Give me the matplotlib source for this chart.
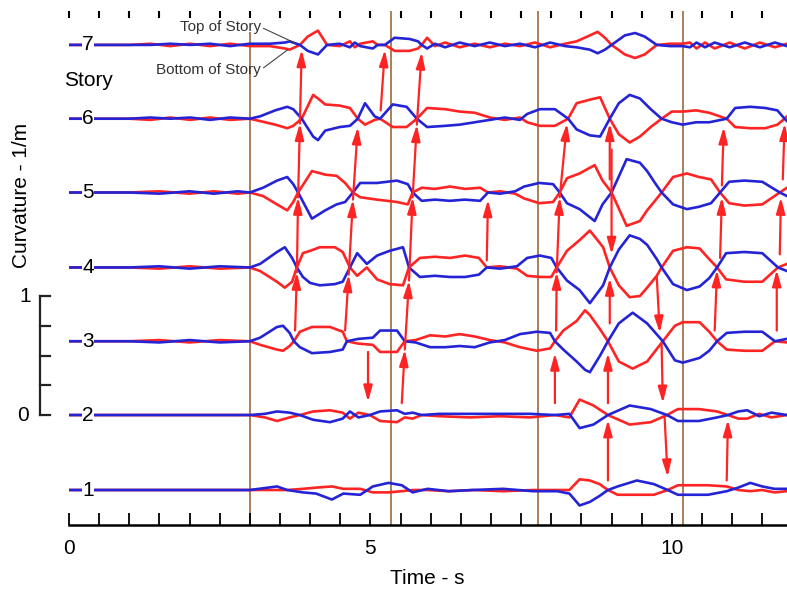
import matplotlib
matplotlib.use('Agg')
import matplotlib.pyplot as plt
import numpy as np

plt.rcParams['font.family'] = ['Liberation Sans', 'DejaVu Sans']

# ---- data: curvature traces (1/m, relative to each story line) ----
story_names = ['1', '2', '3', '4', '5', '6', '7']
story_base = [-0.63, 0.0, 0.62, 1.24, 1.87, 2.49, 3.11]

t7 = [0, 1.0, 1.35, 1.68, 2.01, 2.34, 2.67, 3.0, 3.33, 3.58, 3.66, 3.83, 3.96, 4.13, 4.28,
      4.49, 4.66, 4.74, 4.83, 5.04, 5.12, 5.24, 5.40, 5.65, 5.79, 5.85, 5.94, 6.07, 6.24,
      6.48, 6.73, 6.98, 7.23, 7.48, 7.73, 7.98, 8.23, 8.42, 8.64, 8.77, 8.89, 9.00, 9.22,
      9.39, 9.55, 9.75, 9.97, 10.18, 10.30, 10.41, 10.55, 10.71, 10.96, 11.21, 11.46, 11.71, 11.91]
red7 = [0, 0, .01, -.01, .01, -.01, .01, -.01, -.01, -.03, -.04, 0, .07, .12, 0,
        -.01, .03, -.02, .01, .03, 0, 0, -.05, -.05, -.03, 0, .06, -.01, .02,
        -.02, .01, -.02, .01, -.01, .02, -.02, .01, .03, .08, .11, .06, 0, -.08,
        -.11, -.08, 0, .01, .01, .02, -.03, .02, -.03, .02, -.03, .02, -.02, .01]
blue7 = [0, 0, 0, .01, 0, .01, -.01, .01, .01, .02, .03, 0, -.05, -.08, 0,
         .01, -.02, .02, -.01, -.03, 0, 0, .06, .05, .03, 0, -.03, .01, -.02,
         .02, -.01, .02, -.01, .01, -.02, .02, -.01, -.02, -.04, -.07, -.04, 0, .08,
         .10, .07, 0, -.01, -.01, -.02, .02, -.02, .02, -.02, .02, -.02, .02, -.01]

t6 = [0, 1.0, 1.35, 1.68, 2.01, 2.34, 2.67, 3.0, 3.17, 3.42, 3.62, 3.72, 3.86, 4.05, 4.13,
      4.25, 4.49, 4.66, 4.79, 4.91, 5.07, 5.16, 5.37, 5.60, 5.77, 5.94, 6.24, 6.48, 6.73,
      6.98, 7.23, 7.48, 7.60, 7.81, 8.06, 8.28, 8.42, 8.64, 8.81, 8.97, 9.12, 9.30, 9.47,
      9.65, 9.83, 10.0, 10.18, 10.40, 10.62, 10.91, 11.05, 11.30, 11.55, 11.75, 11.87, 11.91]
red6 = [0, 0, -.01, .01, -.01, .01, -.01, 0, -.02, -.05, -.08, -.06, 0, .20, .17,
        .12, .11, .09, 0, -.05, -.01, 0, -.07, -.07, 0, .09, .08, .06, .05,
        .01, -.01, .01, -.03, -.06, -.06, 0, .13, .16, .18, 0, -.13, -.20, -.15,
        -.07, 0, .06, .06, .07, .05, 0, -.07, -.08, -.08, -.05, 0, .02]
blue6 = [0, 0, .01, 0, .01, -.01, .01, 0, .02, .07, .10, .08, 0, -.15, -.18,
         -.10, -.07, -.06, 0, .13, .02, 0, .12, .10, 0, -.07, -.06, -.05, -.03,
         -.01, .01, -.01, .04, .08, .08, 0, -.09, -.14, -.15, 0, .13, .20, .17,
         .08, 0, -.03, -.05, -.03, -.03, 0, .09, .10, .09, .07, 0, -.02]

t5 = [0, 1.0, 1.5, 2.0, 2.4, 2.8, 3.0, 3.22, 3.45, 3.62, 3.72, 3.80, 4.03, 4.25, 4.44,
      4.58, 4.71, 4.83, 5.11, 5.44, 5.62, 5.70, 5.85, 6.07, 6.32, 6.57, 6.82, 6.95, 7.15,
      7.40, 7.55, 7.80, 8.03, 8.14, 8.26, 8.47, 8.72, 8.85, 9.00, 9.25, 9.47, 9.59, 9.72,
      9.83, 10.02, 10.25, 10.45, 10.65, 10.80, 10.95, 11.20, 11.50, 11.79, 11.91]
red5 = [0, 0, .01, -.01, .01, -.01, 0, -.03, -.10, -.15, -.08, 0, .18, .15, .14,
        .08, 0, -.04, -.06, -.08, -.10, 0, .04, .03, .05, .03, .04, 0, .01,
        -.01, -.05, -.09, -.08, 0, .12, .16, .23, .10, 0, -.28, -.24, -.15, -.07,
        0, .13, .16, .13, .11, 0, -.09, -.11, -.10, 0, .04]
blue5 = [0, 0, -.01, .01, -.01, .01, 0, .04, .10, .13, .07, 0, -.22, -.15, -.10,
         -.08, 0, .08, .08, .10, .07, 0, -.07, -.06, -.07, -.06, -.07, 0, -.01,
         .01, .05, .08, .07, 0, -.09, -.14, -.24, -.10, 0, .28, .25, .18, .08,
         0, -.10, -.14, -.12, -.09, 0, .09, .10, .09, 0, -.03]

t4 = [0, 1.0, 1.5, 2.0, 2.5, 3.0, 3.17, 3.45, 3.58, 3.70, 3.78, 3.88, 4.00, 4.16, 4.41,
      4.54, 4.66, 4.78, 4.94, 5.11, 5.32, 5.54, 5.64, 5.82, 6.07, 6.32, 6.57, 6.80, 6.93,
      7.15, 7.43, 7.60, 7.81, 8.00, 8.09, 8.26, 8.47, 8.64, 8.86, 8.97, 9.12, 9.30, 9.47,
      9.59, 9.75, 9.83, 10.02, 10.25, 10.46, 10.62, 10.75, 10.90, 11.20, 11.50, 11.76, 11.91]
red4 = [0, 0, -.01, .01, -.01, 0, -.03, -.12, -.17, -.12, 0, .12, .14, .17, .17,
        .13, 0, -.07, 0, -.10, -.14, -.15, 0, .08, .09, .08, .10, .08, 0,
        .01, -.01, -.07, -.08, -.08, 0, .14, .23, .31, .17, 0, -.15, -.25, -.24,
        -.17, -.07, 0, .14, .17, .16, .07, 0, -.10, -.12, -.12, 0, .03]
blue4 = [0, 0, .01, -.01, .01, 0, .03, .13, .17, .08, 0, -.08, -.13, -.15, -.14,
         -.12, 0, .12, .03, .10, .14, .17, 0, -.08, -.07, -.08, -.08, -.06, 0,
         -.01, .01, .08, .10, .08, 0, -.11, -.19, -.30, -.15, 0, .15, .27, .24,
         .19, .07, 0, -.14, -.19, -.16, -.09, 0, .12, .13, .12, 0, -.03]

t3 = [0, 1.0, 1.5, 2.0, 2.5, 3.0, 3.17, 3.45, 3.55, 3.66, 3.73, 3.83, 4.03, 4.33, 4.54,
      4.61, 4.80, 5.04, 5.16, 5.44, 5.57, 5.75, 5.99, 6.24, 6.48, 6.73, 6.98, 7.23, 7.48,
      7.76, 7.98, 8.06, 8.20, 8.42, 8.56, 8.64, 8.81, 8.94, 9.12, 9.35, 9.59, 9.85, 10.05,
      10.18, 10.46, 10.62, 10.75, 10.91, 11.20, 11.50, 11.71, 11.91]
red3 = [0, 0, .01, -.01, .01, 0, -.03, -.07, -.08, -.04, 0, .08, .12, .12, .08,
        0, -.02, -.03, -.09, -.09, 0, .01, .05, .04, .06, .04, .01, -.01, -.05,
        -.08, -.06, 0, .09, .17, .26, .22, .10, 0, -.17, -.23, -.17, 0, .13,
        .16, .16, .08, 0, -.07, -.08, -.08, 0, -.01]
blue3 = [0, 0, -.01, .01, -.01, 0, .03, .12, .13, .07, 0, -.05, -.10, -.09, -.07,
         0, .02, .03, .09, .09, 0, -.01, -.05, -.05, -.04, -.05, -.01, .01, .06,
         .08, .07, 0, -.07, -.17, -.24, -.26, -.12, 0, .15, .24, .15, 0, -.16,
         -.18, -.14, -.08, 0, .07, .08, .08, 0, .02]

t2 = [0, 1.0, 2.0, 3.0, 3.25, 3.45, 3.66, 3.83, 4.05, 4.33, 4.54, 4.66, 4.80, 4.99,
      5.16, 5.44, 5.57, 5.70, 5.85, 6.15, 6.65, 7.15, 7.65, 8.06, 8.30, 8.47, 8.70,
      8.94, 9.30, 9.65, 9.92, 10.10, 10.45, 10.75, 10.93, 11.10, 11.25, 11.45, 11.65, 11.91]
red2 = [0, 0, 0, 0, -.02, -.05, -.02, 0, .03, .04, .02, -.03, .02, 0,
        -.05, -.06, -.02, -.03, 0, -.01, -.02, -.01, -.02, 0, -.02, .13, .08,
        0, -.08, -.06, 0, .05, .05, .03, 0, -.03, -.03, .01, -.02, 0]
blue2 = [0, 0, 0, 0, .01, .03, .02, 0, -.04, -.06, -.03, .03, -.02, 0,
         .03, .04, .01, .02, 0, .01, .01, .01, .01, 0, .01, -.11, -.08,
         0, .08, .05, 0, -.05, -.05, -.02, 0, .03, .04, -.01, .02, 0]

t1 = [0, 1.0, 2.0, 3.0, 3.30, 3.45, 3.62, 3.88, 4.10, 4.36, 4.55, 4.83, 5.04, 5.30,
      5.52, 5.70, 5.95, 6.30, 6.70, 7.20, 7.70, 8.10, 8.30, 8.47, 8.64, 8.80, 8.94,
      9.10, 9.42, 9.70, 9.93, 10.10, 10.60, 10.91, 11.10, 11.30, 11.50, 11.70, 11.91]
red1 = [0, 0, 0, 0, 0, 0, 0, .01, .02, .03, .01, .01, -.02, -.02,
        -.01, 0, 0, -.01, 0, -.01, 0, 0, 0, .09, .08, .05, 0,
        -.04, -.04, -.04, 0, .04, .04, .03, 0, -.01, 0, -.02, -.01]
blue1 = [0, 0, 0, 0, .02, .03, 0, -.02, -.03, -.08, -.03, -.04, .03, .06,
         .04, -.02, .01, -.01, 0, .01, -.01, -.01, -.03, -.13, -.10, -.05, 0,
         .03, .08, .05, 0, -.04, -.04, -.01, .02, .06, .03, .01, .01]

# wave-front arrows: (time, curvature axis) tail -> head
arrow_t0 = [3.75, 3.78, 3.80, 3.83, 4.58, 4.64, 4.71, 5.17, 5.52, 5.57, 5.64, 5.70, 5.77,
            4.96, 6.93, 8.06, 8.08, 8.09, 8.14, 8.94, 8.94, 8.97, 9.00, 8.97,
            9.75, 9.83, 9.88, 10.91, 10.71, 10.80, 10.83, 11.74, 11.79, 11.84]
arrow_v0 = [0.71, 1.20, 1.83, 2.45, 0.71, 1.18, 1.81, 2.56, 0.10, 0.55, 1.13, 1.83, 2.44,
            0.53, 1.30, 0.10, 0.71, 1.20, 1.83, -0.55, 0.10, 0.77, 2.23, 1.98,
            1.16, 0.59, -0.02, -0.55, 0.71, 1.32, 1.93, 0.71, 1.35, 1.98]
arrow_t1 = [3.78, 3.80, 3.83, 3.86, 4.64, 4.71, 4.79, 5.24, 5.57, 5.64, 5.70, 5.77, 5.85,
            4.96, 6.95, 8.06, 8.09, 8.14, 8.26, 8.94, 8.94, 8.97, 9.00, 8.97,
            9.80, 9.85, 9.93, 10.93, 10.75, 10.83, 10.86, 11.74, 11.81, 11.87]
arrow_v1 = [1.20, 1.83, 2.45, 3.07, 1.18, 1.81, 2.42, 3.07, 0.55, 1.13, 1.83, 2.44, 3.05,
            0.11, 1.81, 0.52, 1.20, 1.83, 2.45, -0.04, 0.52, 1.15, 1.35, 2.45,
            0.69, 0.10, -0.52, -0.04, 1.22, 1.83, 2.42, 1.22, 1.83, 2.45]

event_times = [3.00, 5.34, 7.78, 10.18]
scale_ticks = [0, 0.25, 0.5, 0.75, 1.0]

RED = '#ff2424'
BLUE = '#2424d6'
BROWN = '#a87f58'

times = [t1, t2, t3, t4, t5, t6, t7]
reds = [red1, red2, red3, red4, red5, red6, red7]
blues = [blue1, blue2, blue3, blue4, blue5, blue6, blue7]

fig = plt.figure(figsize=(7.87, 5.89), dpi=100)
ax = fig.add_axes([69 / 787, 64 / 589, 718 / 787, 514 / 589])
ax.set_xlim(0, 11.91)
ax.set_ylim(-0.924, 3.395)

# event lines
for i, te in enumerate(event_times):
    top = 0.957 if i == 0 else 1.0
    ax.axvline(te, ymin=0, ymax=top, color=BROWN, lw=1.4, zorder=1)

# traces
for name, base, t, r, b in zip(story_names, story_base, times, reds, blues):
    ax.plot(t, base + np.array(r), color=RED, lw=1.9, zorder=2, solid_joinstyle='round')
    ax.plot(t, base + np.array(b), color=BLUE, lw=1.9, zorder=3, solid_joinstyle='round')
    ax.text(0.315, base, name, ha='center', va='center', fontsize=15, zorder=6,
            bbox=dict(fc='white', ec='none', pad=0.5))

# arrows
for x0, y0, x1, y1 in zip(arrow_t0, arrow_v0, arrow_t1, arrow_v1):
    ax.annotate('', xy=(x1, y1), xytext=(x0, y0),
                arrowprops=dict(arrowstyle='-|>,head_length=0.8,head_width=0.22',
                                color=RED, lw=1.6, shrinkA=0, shrinkB=0,
                                mutation_scale=12), zorder=4)

ax.text(0.315, 2.815, 'Story', ha='center', va='center', fontsize=15)

# leader annotations
ax.annotate('Top of Story', xy=(3.75, 3.126), xytext=(3.18, 3.26), ha='right', va='center',
            fontsize=11, color='#333333',
            arrowprops=dict(arrowstyle='-', color='#444444', lw=0.8, shrinkA=0, shrinkB=0,
                            relpos=(1, 0.5)))
ax.annotate('Bottom of Story', xy=(3.63, 3.07), xytext=(3.18, 2.90), ha='right', va='center',
            fontsize=11, color='#333333',
            arrowprops=dict(arrowstyle='-', color='#444444', lw=0.8, shrinkA=0, shrinkB=0,
                            relpos=(1, 0.5)))

# curvature scale bar
ax.plot([-0.48, -0.48], [scale_ticks[0], scale_ticks[-1]], color='#222222', lw=1.6, clip_on=False)
for v in scale_ticks:
    ax.plot([-0.48, -0.315], [v, v], color='#222222', lw=1.6, clip_on=False)
ax.text(-0.73, 1.0, '1', ha='center', va='center', fontsize=15)
ax.text(-0.76, 0.0, '0', ha='center', va='center', fontsize=15)

# axes styling
for side in ['left', 'right', 'top']:
    ax.spines[side].set_visible(False)
ax.spines['bottom'].set_linewidth(1.8)
ax.set_yticks([])
ax.set_xticks([0, 5, 10])
ax.set_xticklabels(['0', '5', '10'])
ax.set_xticks(np.arange(0, 12, 0.5), minor=True)
ax.tick_params(axis='x', which='both', direction='in', length=8.5, width=1.3,
               labelsize=15, pad=10)

top = ax.secondary_xaxis('top')
top.set_xticks(np.arange(0, 12, 0.5))
top.tick_params(direction='in', length=5, width=1.5, labeltop=False)
top.spines['top'].set_visible(False)

fig.text(427 / 787, 1 - 578 / 589, 'Time - s', ha='center', va='center', fontsize=15)
fig.text(22 / 787, 1 - 195 / 589, 'Curvature - 1/m', ha='center', va='center',
         rotation=90, fontsize=15)

fig.savefig('out.png', dpi=100)
